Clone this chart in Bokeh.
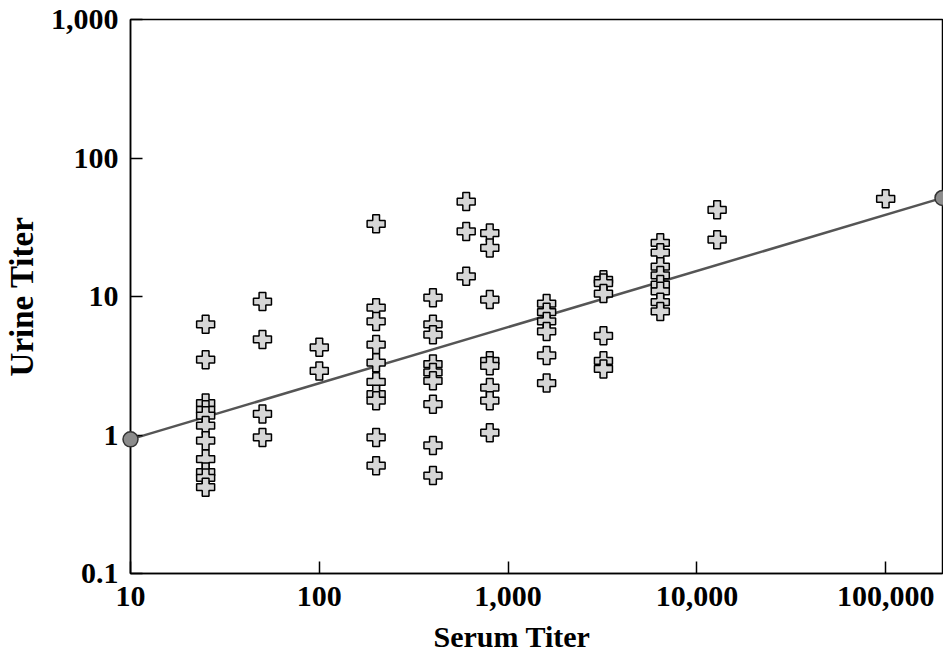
from bokeh.plotting import figure
from bokeh.models import FixedTicker, Range1d, Title
from bokeh.embed import file_html
from bokeh.resources import INLINE

# ---- data ----
serum_levels = [25, 50, 100, 200, 400, 600, 800, 1600, 3200, 6400, 12800, 100000]
urine_25 = [6.3, 3.5, 1.70, 1.52, 1.38, 1.17, 0.91, 0.67, 0.54, 0.49, 0.42]
urine_50 = [9.2, 4.9, 1.42, 0.96]
urine_100 = [4.3, 2.9]
urine_200 = [33.5, 8.3, 6.6, 4.5, 3.33, 2.42, 1.97, 1.77, 0.96, 0.60]
urine_400 = [9.8, 6.3, 5.3, 3.25, 2.83, 2.46, 1.67, 0.84, 0.51]
urine_600 = [48.5, 29.5, 14.0]
urine_800 = [28.7, 22.4, 9.5, 3.43, 3.16, 2.2, 1.77, 1.04]
urine_1600 = [8.9, 7.7, 6.6, 5.6, 3.75, 2.37]
urine_3200 = [13.2, 12.5, 10.5, 5.2, 3.43, 3.0]
urine_6400 = [24.4, 20.7, 16.4, 14.2, 12.2, 10.9, 9.1, 7.8]
urine_12800 = [42.3, 25.7]
urine_100000 = [50.7]

fit_x = [10, 200000]
fit_y = [0.93, 51.5]

x_ticks = [10, 100, 1000, 10000, 100000]
x_tick_labels = ["10", "100", "1,000", "10,000", "100,000"]
y_ticks = [0.1, 1, 10, 100, 1000]
y_tick_labels = ["0.1", "1", "10", "100", "1,000"]

urine_groups = [urine_25, urine_50, urine_100, urine_200, urine_400, urine_600,
                urine_800, urine_1600, urine_3200, urine_6400, urine_12800, urine_100000]
xs = [s for s, grp in zip(serum_levels, urine_groups) for _ in grp]
ys = [v for grp in urine_groups for v in grp]

FONT = "Liberation Serif"

p = figure(width=943, height=668, x_axis_type="log", y_axis_type="log",
           x_range=Range1d(10, 200000), y_range=Range1d(0.1, 1000),
           output_backend="svg", toolbar_location=None,
           min_border_left=130, min_border_top=19, min_border_right=1,
           min_border_bottom=95)

p.xgrid.visible = False
p.ygrid.visible = False
p.outline_line_color = "black"
p.outline_line_width = 1.5
p.outline_line_alpha = 1.0
p.background_fill_color = "white"
p.border_fill_color = "white"

p.xaxis.ticker = FixedTicker(ticks=x_ticks, minor_ticks=[])
p.yaxis.ticker = FixedTicker(ticks=y_ticks, minor_ticks=[])
p.xaxis.major_label_overrides = {t: l for t, l in zip(x_ticks, x_tick_labels)}
p.yaxis.major_label_overrides = {t: l for t, l in zip(y_ticks, y_tick_labels)}

for ax in (p.xaxis, p.yaxis):
    ax.major_tick_in = 12
    ax.major_tick_out = 0
    ax.minor_tick_in = 0
    ax.minor_tick_out = 0
    ax.axis_line_width = 1.5
    ax.axis_line_color = "black"
    ax.major_tick_line_width = 1.5
    ax.major_tick_line_color = "black"
    ax.major_label_text_font = FONT
    ax.major_label_text_font_style = "bold"
    ax.major_label_text_font_size = "30px"
    ax.major_label_text_color = "black"

p.xaxis.major_label_standoff = 13
p.yaxis.major_label_standoff = 12

p.yaxis.axis_label = "Urine Titer"
p.yaxis.axis_label_text_font = FONT
p.yaxis.axis_label_text_font_style = "bold"
p.yaxis.axis_label_text_font_size = "33px"
p.yaxis.axis_label_text_color = "black"
p.yaxis.axis_label_standoff = 8

p.add_layout(Title(text="Serum Titer", align="left", offset=303, standoff=18,
                   text_font=FONT, text_font_style="bold",
                   text_font_size="30px", text_color="black"), "below")

# regression line
p.line(fit_x, fit_y, line_color="#555555", line_width=2.5)

# data points
p.scatter(xs, ys, marker="plus", size=18, fill_color="#d6d6d6",
          line_color="black", line_width=1.5)

# line end markers
p.scatter(fit_x, fit_y, marker="circle", size=15, fill_color="#8c8c8c",
          line_color="#333333", line_width=1.5, level="overlay")

open("out.html", "w").write(file_html(p, INLINE))
